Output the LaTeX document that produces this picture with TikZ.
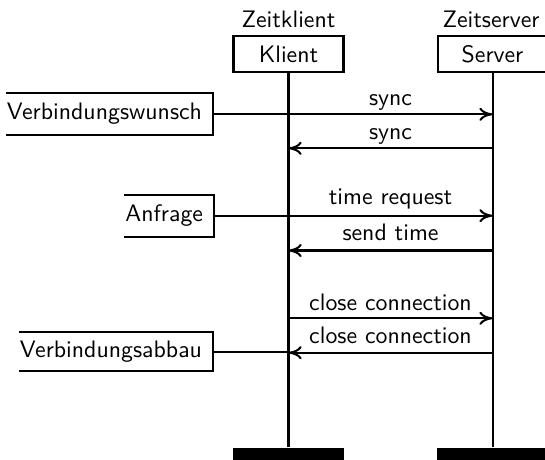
\documentclass[tikz,border=0pt]{standalone}
\usetikzlibrary{arrows.meta}
\begin{document}
\begin{tikzpicture}[x=0.42pt,y=-0.42pt,
  font=\sffamily,
  line width=0.85pt,
  actor/.style={draw, minimum width=46.2pt, minimum height=15.1pt, inner sep=0pt},
  endbar/.style={fill=black, draw=none, minimum width=46.6pt, minimum height=6pt, inner sep=0pt, anchor=north},
  msg/.style={-{To[length=5.5pt,width=5.5pt]}},
  note/.style={anchor=east, inner xsep=4.2pt, inner ysep=0pt, minimum height=16.8pt},
  txt/.style={anchor=base, inner sep=0pt}]
\useasboundingbox (0,0) rectangle (545,459);
\begin{scope}
\clip (0,0) rectangle (545,459);

% participants
\node[txt] (zk) at (288.5,27) {Zeitklient};
\node[txt] (zs) at (491,27) {Zeitserver};
\node[actor] (kl) at (288.5,54) {Klient};
\node[actor] (sv) at (492.5,54) {Server};

% end-of-life bars
\node[endbar] (kbar) at (288.5,447) {};
\node[endbar] (sbar) at (492.5,447) {};

% lifelines
\draw (kl.south) -- (kbar.north);
\draw (sv.south) -- (sbar.north);

% message points on the lifelines
\foreach \n/\y in {1/114.3, 2/148.3, 3/215.7, 4/250.5, 5/318.3, 6/352.7}{
  \coordinate (k\n) at (288.5,\y);
  \coordinate (s\n) at (492.5,\y);
}

% messages
\draw[msg] (k1) -- (s1);
\node[txt] (m1) at (390.5,105.5) {sync};
\draw[msg] (s2) -- (k2);
\node[txt] (m2) at (390.5,139.5) {sync};
\draw[msg] (k3) -- (s3);
\node[txt] (m3) at (390.5,204.5) {time request};
\draw[msg] (s4) -- (k4);
\node[txt] (m4) at (390.5,240.5) {send time};
\draw[msg] (k5) -- (s5);
\node[txt] (m5) at (390.5,310) {close connection};
\draw[msg] (s6) -- (k6);
\node[txt] (m6) at (390.5,343.5) {close connection};

% client-side notes (open on the left)
\node[note] (vw) at (213,114) {Verbindungswunsch};
\node[note] (an) at (214,216) {Anfrage};
\node[note, minimum height=15.5pt] (va) at (213,351.5) {Verbindungsabbau};
\foreach \b in {vw,an,va}{
  \draw ([xshift=4.2pt]\b.north west) -- (\b.north east) -- (\b.south east) -- ([xshift=4.2pt]\b.south west);
}
\draw (vw.east) -- (vw.east -| k1);
\draw (an.east) -- (an.east -| k3);
\draw (va.east) -- (va.east -| k6);
\end{scope}
\end{tikzpicture}
\end{document}
